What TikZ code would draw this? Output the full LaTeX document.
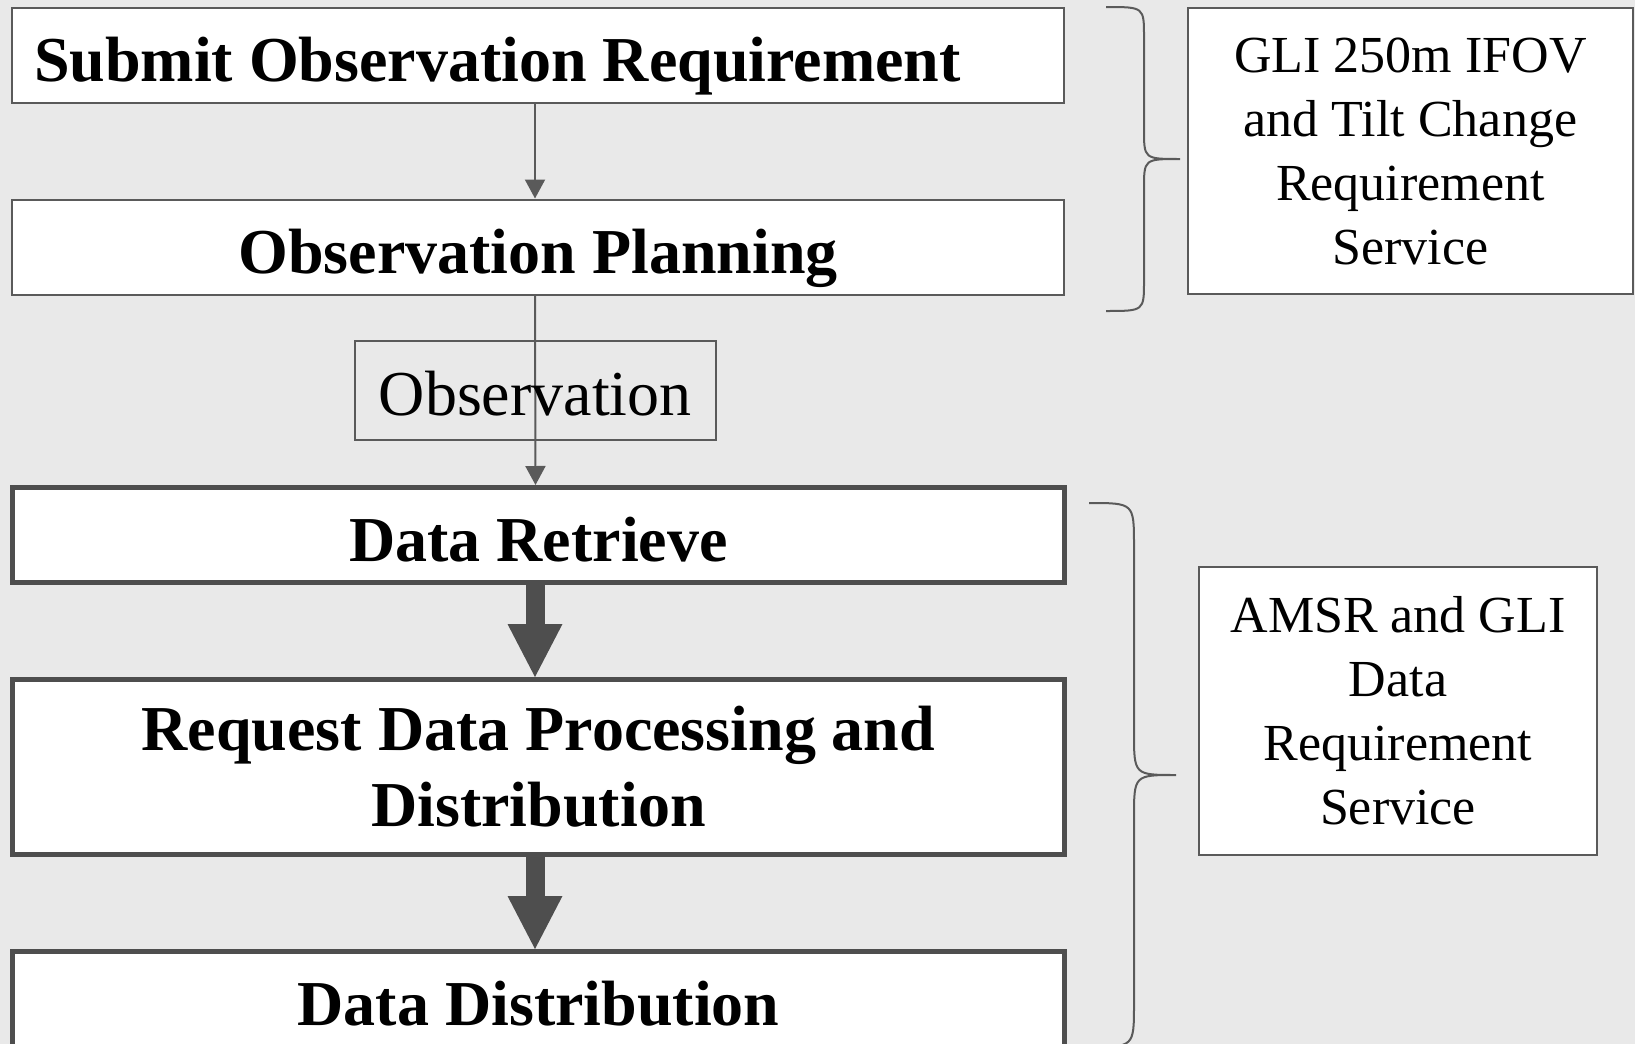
\documentclass[tikz,border=0pt]{standalone}
\usepackage{fontspec}
\setmainfont{Liberation Serif}
\usepackage{tikz}
\usetikzlibrary{arrows.meta}
\definecolor{bggray}{RGB}{233,233,233}
\definecolor{linegray}{RGB}{90,90,90}
\definecolor{fatgray}{RGB}{78,78,78}

\begin{document}
\begin{tikzpicture}[x=0.5pt,y=-0.5pt,
    stagebox/.style={draw=linegray,line width=1pt,fill=white,minimum width=526pt,minimum height=47.5pt,inner sep=0pt,text height=26pt,text depth=0pt,align=center,font=\fontsize{32}{38}\selectfont\bfseries},
    bigstage/.style={stagebox,draw=fatgray,line width=2.5pt},
    obsbox/.style={draw=linegray,line width=1pt,minimum width=180.5pt,minimum height=49.5pt,inner sep=0pt,text height=25pt,text depth=0pt,font=\fontsize{32}{38}\selectfont},
    servicebox/.style={draw=linegray,line width=1pt,fill=white,inner sep=0pt,align=center,font=\fontsize{26}{32}\selectfont},
    thinarrow/.style={draw=linegray,line width=1pt,-{Triangle[width=10pt,length=9.5pt]}},
    fatarrow/.style={draw=fatgray,line width=9.5pt,-{Triangle[width=27.5pt,length=26.5pt,line width=0pt]}},
    bracket/.style={draw=linegray,line width=1pt}]
  \useasboundingbox (0,0) rectangle (1635,1044);
  \fill[bggray] (0,0) rectangle (1635,1044);
  \clip (0,0) rectangle (1635,1044);

  \node[stagebox,text width=504pt,inner xsep=11pt,align=flush left] (submit) at (538,55.5) {Submit Observation Requirement};
  \node[stagebox] (plan) at (538,247) {Observation Planning};
  \node[bigstage] (retr) at (538.5,535) {Data Retrieve};
  \node[bigstage,minimum height=87.5pt,text height=,text depth=] (req) at (538.5,767) {Request Data Processing and\\Distribution};
  \node[bigstage] (dist) at (538.5,999) {Data Distribution};

  \draw[thinarrow] ([xshift=-1.5pt]submit.south) -- ([xshift=-1.5pt]plan.north);
  \draw[thinarrow] ([xshift=-1.5pt]plan.south) -- node[obsbox] (obs) {Observation} ([xshift=-1.5pt]retr.north);
  \draw[fatarrow] ([xshift=-1.75pt]retr.south) -- ([xshift=-1.75pt]req.north);
  \draw[fatarrow] ([xshift=-1.75pt]req.south) -- ([xshift=-1.75pt]dist.north);

  \node[servicebox,minimum width=222.5pt,minimum height=143pt] (gli) at (1410.5,151) {GLI 250m IFOV\\and Tilt Change\\Requirement\\Service};
  \node[servicebox,minimum width=199pt,minimum height=144pt] (amsr) at (1398,711) {AMSR and GLI\\Data\\Requirement\\Service};

  \foreach \xa/\xb/\xc/\ya/\ym/\yb/\ra in {1106/1144/1180/7/159/311/30, 1089/1134/1176/503/775/1047/43}
    \draw[bracket] (\xa,\ya) .. controls (\xb,\ya) .. (\xb,\ya+\ra) -- (\xb,\ym-\ra)
      .. controls (\xb,\ym) .. (\xc,\ym) .. controls (\xb,\ym) .. (\xb,\ym+\ra)
      -- (\xb,\yb-\ra) .. controls (\xb,\yb) .. (\xa,\yb);
\end{tikzpicture}
\end{document}
